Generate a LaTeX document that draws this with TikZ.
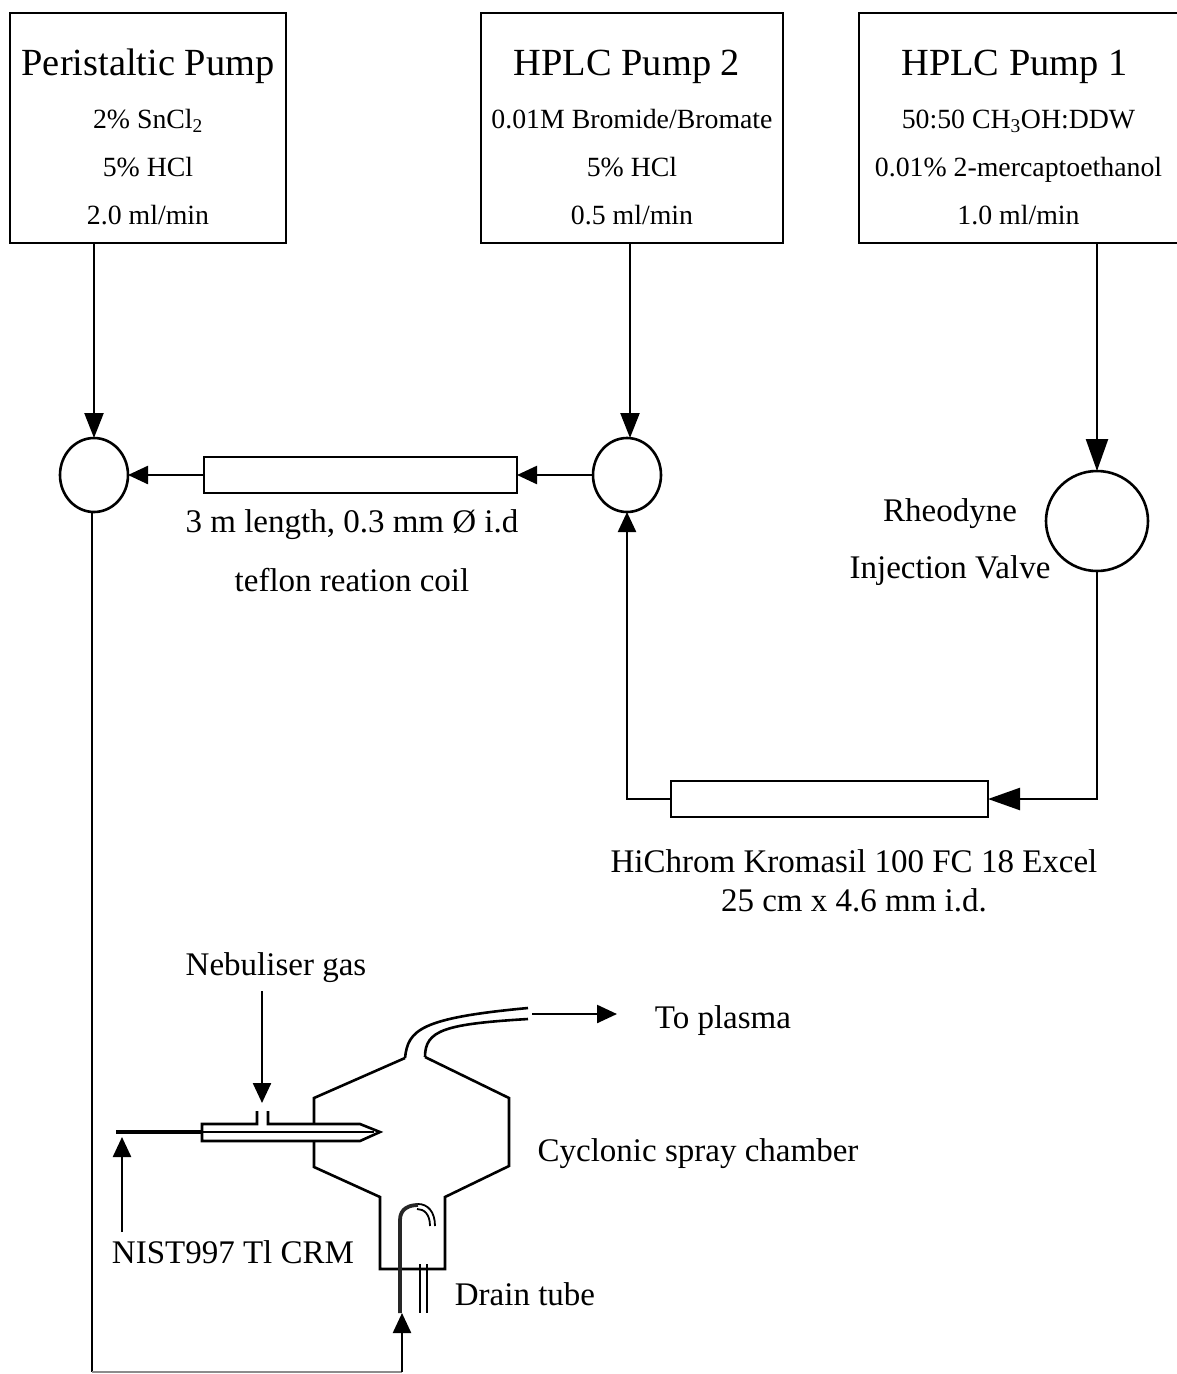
\documentclass[tikz,border=0pt]{standalone}
\usepackage{fontspec}
\setmainfont{Liberation Serif}
\usetikzlibrary{positioning,arrows.meta,shapes.geometric}
\newcommand{\bigtxt}{\fontsize{38.4}{38.4}\selectfont}
\newcommand{\smalltxt}{\fontsize{27.8}{27.8}\selectfont}
\newcommand{\midtxt}{\fontsize{33}{33}\selectfont}
\tikzset{
  pump/.style={draw=black, line width=2.6pt, minimum height=230pt, inner sep=0pt, outer sep=0pt, align=center, font=\smalltxt},
  mixer/.style={draw=black, line width=2.6pt, ellipse, minimum width=68pt, minimum height=74pt, inner sep=0pt, outer sep=0pt},
  tubebox/.style={draw=black, line width=2.6pt, inner sep=0pt, outer sep=0pt, minimum height=36pt},
  lbl/.style={font=\midtxt, align=center, inner sep=0pt},
  flow/.style={-{Triangle[length=20pt, width=18pt]}, line width=2.4pt, black},
  longflow/.style={-{Triangle[length=25pt, width=19pt]}, line width=2.4pt, black},
  bigflow/.style={-{Triangle[length=32pt, width=22pt]}, line width=2.4pt, black},
  wall/.style={line width=2.6pt, black, line join=miter}
}
\begin{document}
\begin{tikzpicture}[x=1pt, y=-1pt, node distance=6pt and 9pt]
  \useasboundingbox (0,0) rectangle (1176,1374);
  \fill[white] (0,0) rectangle (1176,1374);

  \node[pump, minimum width=276pt, anchor=north west] (perist) at (10,13) {\rule{0pt}{44pt}{\bigtxt Peristaltic Pump}\\[25pt]2\% SnCl\textsubscript{2}\\[20pt]5\% HCl\\[20pt]2.0 ml/min};
  \node[pump, minimum width=302pt, right=195pt of perist] (hplctwo) {\rule{0pt}{44pt}{\bigtxt HPLC Pump 2}\kern10pt\\[25pt]0.01M Bromide/Bromate\\[20pt]5\% HCl\\[20pt]0.5 ml/min};
  \node[pump, minimum width=319pt, right=76pt of hplctwo] (hplcone) {\rule{0pt}{44pt}{\bigtxt HPLC Pump 1}\kern8pt\\[25pt]50:50 CH\textsubscript{3}OH:DDW\\[20pt]0.01\% 2-mercaptoethanol\\[20pt]1.0 ml/min};

  \node[mixer] (mixa) at (94,475) {};
  \node[mixer] (mixb) at (627,475) {};
  \node[tubebox, minimum width=313pt] (coil) at (360.5,475) {};
  \node[mixer, minimum width=102pt, minimum height=100pt] (valve) at (1097,521) {};
  \node[tubebox, minimum width=317pt] (column) at (829.5,799) {};

  \node[lbl] (coiltxt) at (352,525) {3 m length, 0.3 mm Ø i.d};
  \node[lbl, below=28pt of coiltxt] (cointxt) {teflon reation coil};
  \node[lbl] (valvetxt) at (950,542) {Rheodyne\\[24pt]Injection Valve};
  \node[lbl] (columntxt) at (854,881) {HiChrom Kromasil 100 FC 18 Excel\\[6pt]25 cm x 4.6 mm i.d.};
  \node[lbl] (nebtxt) at (276,968) {Nebuliser gas};
  \node[lbl] (plasmatxt) at (723,1021) {To plasma};
  \node[lbl] (cyctxt) at (698,1154) {Cyclonic spray chamber};
  \node[lbl] (nisttxt) at (233,1252) {NIST997 Tl CRM};
  \node[lbl] (draintxt) at (525,1294) {Drain tube};

  % pumps and loop
  \draw[longflow] (perist.south -| mixa) -- (mixa.north);
  \draw[longflow] (hplctwo.south -| 630,0) -- (630,438);
  \draw[bigflow] (hplcone.south -| valve) -- (valve.north);
  \draw[flow] (mixb.west) -- (coil.east);
  \draw[flow] (coil.west) -- (mixa.east);
  \draw[bigflow] (valve.south) |- (column.east);
  \draw[flow] (column.west) -| (mixb.south);

  % spray chamber
  \coordinate (corner) at (92,1372);
  \coordinate (sampin) at (402,1372);
  \coordinate (samptop) at (402,1313);
  \draw[line width=2.4pt, black] (mixa.south -| corner) -- (corner);
  \draw[line width=2.4pt, black!45] (corner) -- (sampin);
  \draw[flow] (sampin) -- (samptop);

  \draw[wall] (405,1058) -- (314,1098) -- (314,1167) -- (380,1197) -- (380,1269) -- (445,1269) -- (445,1197) -- (509,1166) -- (509,1098) -- (425,1057);
  \draw[wall] (405,1058) .. controls (408,1030) and (420,1018) .. (528,1008);
  \draw[wall] (425,1057) .. controls (425,1030) and (445,1024) .. (528,1019);
  \draw[flow] (532,1014) -- (617,1014);

  \fill[white] (203,1125) rectangle (360,1140);
  \draw[wall] (257,1111) -- (257,1124) -- (202,1124) -- (202,1141) -- (360,1141) -- (380,1132) -- (360,1124) -- (268,1124) -- (268,1111);
  \draw[line width=2.6pt] (202,1132) -- (374,1132);
  \draw[line width=3.8pt] (116,1132) -- (202,1132);
  \coordinate (nebend) at (262,1103);
  \coordinate (nistend) at (122,1137);
  \draw[flow] (nebtxt.south -| nebend) ++(0,8) -- (nebend);
  \draw[flow] (122,1232) -- (nistend);

  \draw[line width=3.8pt, black!85] (400,1313) -- (400,1220) .. controls (400,1208) and (410,1205) .. (418,1205);
  \draw[line width=1.8pt] (418,1204) .. controls (428,1204) and (435,1212) .. (435,1226);
  \draw[line width=1.8pt] (417,1209) .. controls (424,1209) and (430,1214) .. (430,1226);
  \draw[line width=2pt] (420,1264) -- (420,1313);
  \draw[line width=2pt] (427,1264) -- (427,1313);
\end{tikzpicture}
\end{document}
